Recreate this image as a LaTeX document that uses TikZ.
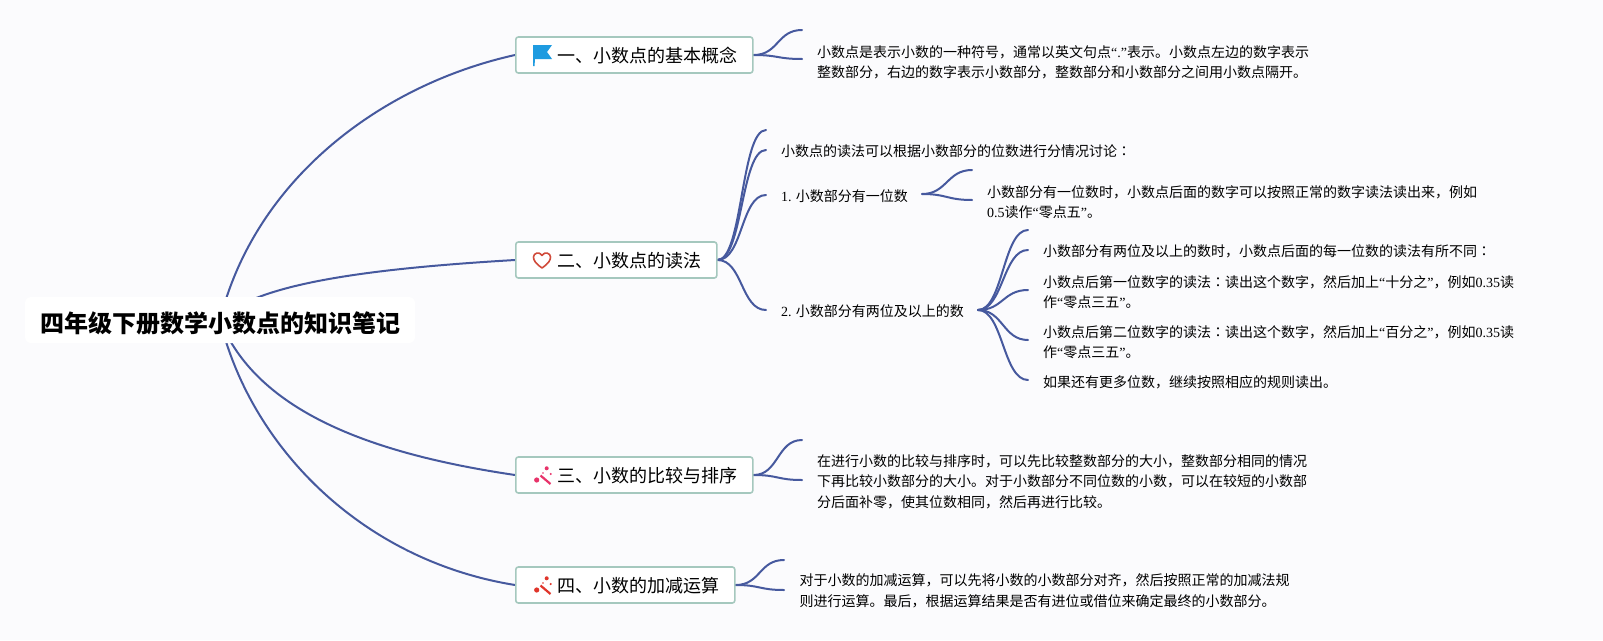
\documentclass[tikz,border=0pt]{standalone}
\usepackage{fontspec}
\usepackage[HTML]{xcolor}
\setmainfont{Noto Sans CJK SC}
\newfontfamily\latinfont{Liberation Serif}
\newfontfamily\colonfont{Noto Sans CJK TC}
\newcommand{\lat}[1]{{\latinfont #1}}
\newcommand{\colonmark}{{\colonfont ：}}
\definecolor{bgcol}{HTML}{FBFBFD}
\definecolor{linkcol}{HTML}{46599E}
\definecolor{edgecol}{HTML}{A5C8BE}
\definecolor{flagcol}{HTML}{1E9BE0}
\definecolor{heartcol}{HTML}{D04A3A}
\definecolor{pinkcol}{HTML}{E8336A}
\definecolor{redcol}{HTML}{E0352B}
\usetikzlibrary{positioning, backgrounds}

\begin{document}
\begin{tikzpicture}[
  x=1pt, y=-1pt,
  every node/.style={align=left, inner sep=0pt},
  rootbox/.style={fill=white, rounded corners=6pt, minimum width=390pt, minimum height=46pt, text height=28pt, text depth=2.6pt, font=\fontsize{24}{28}\selectfont\bfseries},
  topic/.style={draw=edgecol, line width=1.6pt, fill=white, rounded corners=2.5pt, anchor=west, minimum height=36pt, inner xsep=15pt, text height=17pt, text depth=2pt, font=\fontsize{18}{22}\selectfont},
  leaf/.style={anchor=west, font=\fontsize{14}{20.5}\selectfont},
  link/.style={draw=linkcol, line width=2pt, line cap=round},
  wide/.style={to path={.. controls +(25,0) and +(-25,0) .. (\tikztotarget)}}
  ]

\useasboundingbox (0,0) rectangle (1603,640);

\node[rootbox] (root) at (220,320) {四年级下册数学小数点的知识笔记};

\node[topic] (one) at (515,55) {\hspace{27pt}一、小数点的基本概念};
\node[topic] (two) at (515,260) {\hspace{27pt}二、小数点的读法};
\node[topic] (three) at (515,475) {\hspace{27pt}三、小数的比较与排序};
\node[topic] (four) at (515,585) {\hspace{27pt}四、小数的加减运算};

\node[leaf] (onetext) at (817,62.5) {小数点是表示小数的一种符号，通常以英文句点\lat{“.”}表示。小数点左边的数字表示\\整数部分，右边的数字表示小数部分，整数部分和小数部分之间用小数点隔开。};
\node[leaf] (intro) at (781,151) {小数点的读法可以根据小数部分的位数进行分情况讨论\colonmark};
\node[leaf] (single) at (781,196.5) {\lat{1.} 小数部分有一位数};
\node[leaf] (singletext) at (987,202) {小数部分有一位数时，小数点后面的数字可以按照正常的数字读法读出来，例如\\\lat{0.5}读作\lat{“}零点五\lat{”}。};
\node[leaf] (multi) at (781,311) {\lat{2.} 小数部分有两位及以上的数};
\node[leaf] (multia) at (1043,251) {小数部分有两位及以上的数时，小数点后面的每一位数的读法有所不同\colonmark};
\node[leaf] (multib) at (1043,292) {小数点后第一位数字的读法\colonmark 读出这个数字，然后加上\lat{“}十分之\lat{”}，例如\lat{0.35}读\\作\lat{“}零点三五\lat{”}。};
\node[leaf] (multic) at (1043,342) {小数点后第二位数字的读法\colonmark 读出这个数字，然后加上\lat{“}百分之\lat{”}，例如\lat{0.35}读\\作\lat{“}零点三五\lat{”}。};
\node[leaf] (multid) at (1043,382) {如果还有更多位数，继续按照相应的规则读出。};
\node[leaf] (threetext) at (817,481.5) {在进行小数的比较与排序时，可以先比较整数部分的大小，整数部分相同的情况\\下再比较小数部分的大小。对于小数部分不同位数的小数，可以在较短的小数部\\分后面补零，使其位数相同，然后再进行比较。};
\node[leaf] (fourtext) at (799.5,591) {对于小数的加减运算，可以先将小数的小数部分对齐，然后按照正常的加减法规\\则进行运算。最后，根据运算结果是否有进位或借位来确定最终的小数部分。};

% free ends of the branches
\coordinate (onea) at (802,30);
\coordinate (oneb) at (802,59);
\coordinate (twoa) at (766,130);
\coordinate (twob) at (766,150);
\coordinate (twoc) at (766,195);
\coordinate (twod) at (766,310);
\coordinate (singlea) at (972,170);
\coordinate (singleb) at (972,200);
\coordinate (multistart) at (978,310);
\coordinate (singlestart) at (922,194);
\coordinate (ma) at (1028,230);
\coordinate (mb) at (1028,250);
\coordinate (mc) at (1028,290);
\coordinate (md) at (1028,340);
\coordinate (me) at (1028,380);
\coordinate (threea) at (802,440);
\coordinate (threeb) at (802,480);
\coordinate (foura) at (784,560);
\coordinate (fourb) at (784,590);

% icons
\fill[flagcol] (533,45) -- (552,45) -- (547,52) -- (552,59) -- (535,59) -- (534.5,66) -- (533,66) -- cycle;
\draw[heartcol, line width=1.6pt, line join=round] (542,268) .. controls (535,263) and (533.5,260) .. (533.5,257) .. controls (533.5,253) and (539.5,251) .. (542,255.5) .. controls (544.5,251) and (550.5,253) .. (550.5,257) .. controls (550.5,260) and (549,263) .. (542,268) -- cycle;
\draw[pinkcol, line width=2.2pt] (540.5,475.5) -- (550.5,484);
\fill[pinkcol] (546.7,468.3) circle (2pt) (536.7,480) circle (2.6pt) (550.7,474) circle (1.2pt) (543,473) circle (.9pt);
\draw[redcol, line width=2.2pt] (540.5,585.5) -- (550.5,594);
\fill[redcol] (546.7,578.3) circle (2pt) (536.7,590) circle (2.6pt) (550.7,584) circle (1.2pt) (543,583) circle (.9pt);

\begin{scope}[on background layer]
\fill[bgcol] (0,0) rectangle (1603,640);
\draw[link] (root.center) .. controls (255,180) and (380,85) .. (one.west);
\draw[link] (root.center) .. controls (256,282) and (380,268) .. (two.west);
\draw[link] (root.center) .. controls (258,415) and (380,455) .. (three.west);
\draw[link] (root.center) .. controls (250,445) and (360,560) .. (four.west);
\draw[link] (one.east) to[wide] (onea);
\draw[link] (one.east) to[wide] (oneb);
\draw[link] (two.east) to[wide] (twoa);
\draw[link] (two.east) to[wide] (twob);
\draw[link] (two.east) to[wide] (twoc);
\draw[link] (two.east) to[wide] (twod);
\draw[link] (singlestart) to[wide] (singlea);
\draw[link] (singlestart) to[wide] (singleb);
\draw[link] (multistart) to[wide] (ma);
\draw[link] (multistart) to[wide] (mb);
\draw[link] (multistart) to[wide] (mc);
\draw[link] (multistart) to[wide] (md);
\draw[link] (multistart) to[wide] (me);
\draw[link] (three.east) to[wide] (threea);
\draw[link] (three.east) to[wide] (threeb);
\draw[link] (four.east) to[wide] (foura);
\draw[link] (four.east) to[wide] (fourb);
\end{scope}
\end{tikzpicture}
\end{document}
